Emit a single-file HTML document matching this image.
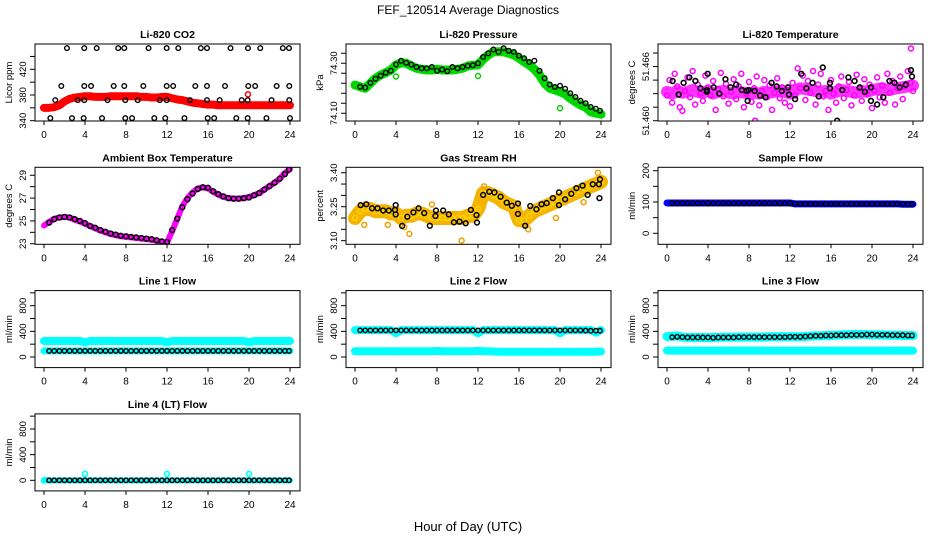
<!DOCTYPE html>
<html><head><meta charset="utf-8"><style>
body{margin:0;background:#fff;}
svg{display:block;font-family:"Liberation Sans",sans-serif;}
</style></head><body>
<svg id="chart" width="936" height="540" viewBox="0 0 936 540" xmlns="http://www.w3.org/2000/svg">
<text x="468" y="14" text-anchor="middle" font-size="12">FEF_120514  Average Diagnostics</text>
<text x="468" y="531" text-anchor="middle" font-size="13">Hour of Day (UTC)</text>
</svg>
<script>
const H49=[0,0.5,1,1.5,2,2.5,3,3.5,4,4.5,5,5.5,6,6.5,7,7.5,8,8.5,9,9.5,10,10.5,11,11.5,12,12.5,13,13.5,14,14.5,15,15.5,16,16.5,17,17.5,18,18.5,19,19.5,20,20.5,21,21.5,22,22.5,23,23.5,24];
const BH=[0.5,1,1.5,2,2.5,3,3.5,4,4.5,5,5.5,6,6.5,7,7.5,8,8.5,9,9.5,10,10.5,11,11.5,12,12.5,13,13.5,14,14.5,15,15.5,16,16.5,17,17.5,18,18.5,19,19.5,20,20.5,21,21.5,22,22.5,23,23.5,23.9];
const xTicks=[0,4,8,12,16,20,24];

// CO2
const co2Band=[360,360,361,364,370,374,376,377,378,378,377,377,377,378,378,378,378,378,378,377,377,376,376,377,377,375,373,372,370,368,367,366,365,365,364,364,364,364,364,364,364,364,364,364,364,364,364,364,364];
const co2BlackX=[2.24,3.93,5.14,7.24,7.83,10.2,11.97,13.1,15.3,15.9,18.2,19.9,21.1,23.3,23.9,1.69,3.93,4.59,6.8,7.83,9.69,11.97,12.6,14.76,15.9,17.66,19.93,20.6,22.7,23.93,1.1,3.29,3.93,6.2,7.93,9.14,11.3,11.97,14.24,15.9,17.14,19.29,19.87,22.2,23.93,0.62,2.73,3.87,5.66,7.93,8.59,10.76,11.83,13.7,15.97,16.6,18.76,19.87,21.7,24];
const co2BlackY=[453,453,453,453,453,453,453,453,453,453,453,453,453,453,453,394,394,394,394,394,394,394,394,394,394,394,394,394,394,394,372,372,372,372,372,372,372,372,372,372,372,372,372,372,372,344,344,344,344,344,344,344,344,344,344,344,344,344,344,344];
// Pressure
const presBand=[74.213,74.206,74.200,74.220,74.240,74.253,74.262,74.273,74.293,74.302,74.300,74.289,74.280,74.276,74.273,74.273,74.276,74.273,74.273,74.273,74.276,74.280,74.289,74.292,74.293,74.316,74.333,74.346,74.346,74.346,74.340,74.333,74.320,74.306,74.293,74.276,74.253,74.220,74.200,74.193,74.186,74.177,74.160,74.146,74.133,74.124,74.106,74.100,74.096];
const presBlack=[74.206,74.203,74.222,74.238,74.25,74.262,74.27,74.295,74.31,74.302,74.295,74.285,74.28,74.28,74.285,74.27,74.275,74.268,74.285,74.28,74.285,74.29,74.292,74.30,74.325,74.34,74.355,74.345,74.36,74.35,74.345,74.33,74.32,74.305,74.31,74.27,74.24,74.215,74.205,74.21,74.198,74.18,74.165,74.15,74.14,74.125,74.118,74.11];
const presOutX=[4,12,20];
const presOutY=[74.247,74.249,74.12];
// Li-820 temperature
const tempBand=[51.4632,51.4630,51.4633,51.4631,51.4632,51.4634,51.4632,51.4631,51.4633,51.4630,51.4632,51.4633,51.4631,51.4630,51.4632,51.4631,51.4630,51.4631,51.4630,51.4632,51.4631,51.4632,51.4633,51.4632,51.4630,51.4634,51.4636,51.4635,51.4634,51.4633,51.4632,51.4633,51.4630,51.4632,51.4634,51.4633,51.4632,51.4631,51.4633,51.4632,51.4634,51.4635,51.4636,51.4634,51.4635,51.4636,51.4637,51.4638,51.4639];
const tempMag=[51.4628,51.4645,51.4620,51.4652,51.4638,51.4615,51.4611,51.4633,51.4648,51.4626,51.4655,51.4618,51.4640,51.4630,51.4622,51.4650,51.4637,51.4628,51.4644,51.4612,51.4635,51.4653,51.4627,51.4641,51.4619,51.4632,51.4646,51.4624,51.4638,51.4652,51.4615,51.4630,51.4643,51.4621,51.4636,51.4649,51.4617,51.4633,51.4645,51.4626,51.4639,51.4612,51.4631,51.4647,51.4625,51.4637,51.4620,51.4634,51.4616,51.4642,51.4628,51.4658,51.4636,51.4650,51.4623,51.4644,51.4631,51.4655,51.4618,51.4640,51.4652,51.4627,51.4633,51.4612,51.4645,51.4630,51.4620,51.4638,51.4649,51.4625,51.4634,51.4643,51.4617,51.4628,51.4651,51.4636,51.4622,51.4646,51.4630,51.4640,51.4614,51.4633,51.4648,51.4626,51.4639,51.4620,51.4652,51.4631,51.4644,51.4618,51.4636,51.4649,51.4624,51.4638,51.4655,51.4642,51.4633];
const tempOutX=[23.8,8.6];
const tempOutY=[51.4680,51.4600];
const tempBlackX=[0.55,1.14,1.62,2.18,2.77,3.26,3.88,3.97,3.88,4.56,5.1,5.7,6.2,6.75,7.3,7.78,7.87,7.97,8.55,9.08,9.6,10.2,10.7,11.2,11.8,11.9,12.5,13.1,13.6,14.2,14.8,15.2,15.9,15.9,16.6,17.1,17.7,18.3,18.8,19.3,19.9,19.9,20.5,21.1,21.7,22.2,22.7,23.3,23.8,23.9];
const tempBlackY=[51.4644,51.4629,51.4642,51.4648,51.4644,51.4636,51.4634,51.4652,51.4632,51.4637,51.4630,51.4646,51.4637,51.4640,51.4634,51.4633,51.4622,51.4634,51.4633,51.4628,51.4626,51.4642,51.4638,51.4633,51.4637,51.4629,51.4624,51.4652,51.4636,51.4642,51.4627,51.4659,51.4642,51.4636,51.4600,51.4634,51.4648,51.4644,51.4637,51.4632,51.4622,51.4637,51.4618,51.4626,51.4644,51.4642,51.4637,51.4640,51.4656,51.4649];
// Ambient
const ambBand=[24.6,24.9,25.2,25.3,25.35,25.3,25.1,24.95,24.75,24.55,24.35,24.15,24.0,23.85,23.75,23.65,23.6,23.55,23.5,23.45,23.4,23.35,23.25,23.15,23.1,24.1,25.2,26.3,27.0,27.5,27.85,27.95,27.85,27.55,27.3,27.1,27.0,26.95,26.95,27.0,27.1,27.25,27.45,27.75,28.05,28.35,28.7,29.2,29.55];
const ambBlack=[24.85,25.15,25.3,25.35,25.3,25.15,25.0,24.8,24.55,24.4,24.2,24.05,23.9,23.8,23.7,23.65,23.6,23.55,23.5,23.45,23.4,23.3,23.2,23.15,24.2,25.2,26.2,26.9,27.4,27.8,27.95,27.9,27.6,27.35,27.15,27.0,26.95,26.95,27.0,27.05,27.25,27.45,27.75,28.05,28.35,28.7,29.1,29.5];
// Gas RH
const rhBand=[3.20,3.23,3.24,3.24,3.23,3.23,3.23,3.22,3.22,3.20,3.21,3.21,3.22,3.22,3.21,3.20,3.20,3.20,3.20,3.20,3.20,3.20,3.21,3.21,3.24,3.31,3.31,3.30,3.29,3.27,3.26,3.25,3.19,3.19,3.21,3.23,3.24,3.25,3.26,3.27,3.28,3.29,3.30,3.31,3.32,3.33,3.34,3.35,3.36];
const rhOutX=[0.9,4.8,5.3,10.4,16.9,12.6,22.3,23.7,3.2,7.5,19.6];
const rhOutY=[3.17,3.16,3.13,3.10,3.15,3.34,3.27,3.40,3.17,3.26,3.20];
const rhBlackX=[0.55,1.1,1.66,2.2,2.75,3.3,3.9,3.97,3.97,4.6,5.1,5.7,6.2,6.75,7.3,7.85,7.9,8.6,9.15,9.65,10.2,10.8,11.3,11.85,11.9,12.5,13.1,13.6,14.2,14.8,15.3,15.9,15.9,16.6,17.1,17.7,18.2,18.7,19.3,19.9,19.9,20.5,21.1,21.6,22.2,22.7,23.2,23.8,23.9,23.85];
const rhBlackY=[3.257,3.261,3.243,3.243,3.233,3.233,3.236,3.257,3.216,3.165,3.206,3.225,3.243,3.222,3.166,3.209,3.233,3.233,3.216,3.181,3.184,3.177,3.236,3.213,3.180,3.302,3.316,3.313,3.294,3.268,3.254,3.264,3.218,3.166,3.253,3.239,3.261,3.266,3.288,3.313,3.257,3.283,3.307,3.332,3.343,3.302,3.349,3.349,3.371,3.288];
// Sample flow
const sampBand=[97,97,97,97,97,97,97,97,97,97,97,97,97,97,97,97,97,97,97,97,97,97,97,97,97,94,94,94,94,94,94,94,94,94,94,94,94,94,94,94,94,94,94,94,94,94,93,93,93];
const sampBlack=[96,96,96,96,96,96,96,96,96,96,96,96,96,96,96,96,96,96,96,96,96,96,96,96,94,94,94,94,94,94,94,94,94,94,94,94,94,94,94,94,94,94,94,94,94,94,93,93];
// Line 1
const l1CyanHi=[250,250,250,250,250,250,250,250,230,250,250,250,250,250,250,250,250,250,250,250,250,250,250,250,230,250,250,250,250,250,250,250,250,250,250,250,250,250,250,250,230,250,250,250,250,250,250,250,250];
const l1CyanLo=[95,95,95,95,95,95,95,95,95,95,95,95,95,95,95,95,95,95,95,95,95,95,95,95,95,95,95,95,95,95,95,95,95,95,95,95,95,95,95,95,95,95,95,95,95,95,95,95,95];
const l1Black=[95,95,95,95,95,95,95,95,95,95,95,95,95,95,95,95,95,95,95,95,95,95,95,95,95,95,95,95,95,95,95,95,95,95,95,95,95,95,95,95,95,95,95,95,95,95,95,95];
// Line 2
const l2CyanHi=[420,420,420,420,420,420,420,420,370,420,420,420,420,420,420,420,420,420,420,420,420,420,420,420,370,420,420,420,420,420,420,420,420,420,420,420,420,420,420,420,370,420,420,420,420,420,420,380,420];
const l2CyanLo=[90,90,90,90,90,90,90,90,90,90,90,90,90,90,90,90,95,90,90,90,90,90,90,90,95,90,90,85,82,82,82,82,82,82,82,82,82,82,82,82,82,82,82,82,82,82,82,82,85];
const l2Black=[415,415,415,415,415,415,415,415,415,415,415,415,415,415,415,415,415,415,415,415,415,415,415,415,415,415,415,415,415,415,415,415,415,415,415,415,415,415,415,415,415,415,415,415,412,410,410,410];
// Line 3
const l3CyanHi=[320,320,330,310,305,305,305,305,300,305,305,310,310,310,310,310,310,310,310,310,315,315,315,315,315,315,315,320,325,330,330,335,335,340,345,345,350,350,350,350,345,345,345,340,340,340,335,335,335];
const l3CyanLo=[100,100,100,100,100,100,100,100,100,100,100,100,100,100,100,100,100,100,100,100,100,100,100,100,100,100,100,100,100,100,100,100,100,100,100,100,100,100,100,100,100,100,100,100,100,100,100,100,100];
const l3Black=[310,315,310,305,305,305,305,305,300,305,305,305,305,310,310,310,310,310,310,310,310,310,310,315,315,315,320,325,330,330,335,335,340,340,340,345,345,345,350,350,345,345,345,340,340,340,335,335];
// Line 4
const l4Cyan=[0,0,0,0,0,0,0,0,100,0,0,0,0,0,0,0,0,0,0,0,0,0,0,0,100,0,0,0,0,0,0,0,0,0,0,0,0,0,0,0,100,0,0,0,0,0,0,0,0];
const l4Black=[0,0,0,0,0,0,0,0,0,0,0,0,0,0,0,0,0,0,0,0,0,0,0,0,0,0,0,0,0,0,0,0,0,0,0,0,0,0,0,0,0,0,0,0,0,0,0,0];

const NS='http://www.w3.org/2000/svg';
const svg=document.getElementById('chart');
const colLeft=[35,346,658], rowTop=[44,167.3,290.6,413.9], PW=265, PH=77;
function mk(tag,parent){const e=document.createElementNS(NS,tag);parent.appendChild(e);return e;}

function panel(col,row,ymin,ymax,yt,yl,title,ylab,pname){
  const g=mk('g',svg);
  
  
  const L=colLeft[col],T=rowTop[row],B=T+PH;
  const sx=h=>L+9+h*10.25, sy=v=>B-(v-ymin)/(ymax-ymin)*PH;
  const clip=mk('clipPath',g);clip.setAttribute('id','c'+pname);
  const cr=mk('rect',clip);cr.setAttribute('x',L);cr.setAttribute('y',T);cr.setAttribute('width',PW);cr.setAttribute('height',PH);
  const data=mk('g',g);data.setAttribute('clip-path','url(#c'+pname+')');
  
  
  const box=mk('rect',g);
  
  
  box.setAttribute('x',L);box.setAttribute('y',T);box.setAttribute('width',PW);box.setAttribute('height',PH);
  box.setAttribute('fill','none');box.setAttribute('stroke','#000');box.setAttribute('stroke-width','1');
  const t=mk('text',g);
  
  
  t.setAttribute('x',L+PW/2);t.setAttribute('y',T-6);t.setAttribute('text-anchor','middle');t.setAttribute('font-size','10.5');t.setAttribute('font-weight','bold');t.textContent=title;
  const yt2=mk('text',g);
  
  
  yt2.setAttribute('transform','translate('+(L-23)+','+(T+PH/2)+') rotate(-90)');yt2.setAttribute('text-anchor','middle');yt2.setAttribute('font-size','9.5');yt2.textContent=ylab;
  yt.forEach(v=>{const l=mk('line',g);
    
    
    l.setAttribute('x1',L-5);l.setAttribute('x2',L);l.setAttribute('y1',sy(v));l.setAttribute('y2',sy(v));l.setAttribute('stroke','#000');});
  yl.forEach(a=>{const s=mk('text',g);
    
    
    s.setAttribute('transform','translate('+(L-9)+','+sy(a[1])+') rotate(-90)');s.setAttribute('text-anchor','middle');s.setAttribute('font-size','9.5');s.textContent=a[0];});
  xTicks.forEach(v=>{const l=mk('line',g);
    
    
    l.setAttribute('x1',sx(v));l.setAttribute('x2',sx(v));l.setAttribute('y1',B);l.setAttribute('y2',B+4);l.setAttribute('stroke','#000');
    const s=mk('text',g);
    
    
    s.setAttribute('x',sx(v));s.setAttribute('y',B+17);s.setAttribute('text-anchor','middle');s.setAttribute('font-size','10');s.textContent=v;});
  return {sx,sy,data};
}
function band(p,xs,ys,color,w,op){
  const pl=mk('polyline',p.data);
  
  
  pl.setAttribute('points',xs.map((x,i)=>p.sx(x)+','+p.sy(ys[i])).join(' '));
  pl.setAttribute('fill','none');pl.setAttribute('stroke',color);pl.setAttribute('stroke-width',w);pl.setAttribute('stroke-linejoin','round');pl.setAttribute('stroke-linecap','round');
  if(op)pl.setAttribute('stroke-opacity',op);
}
function pts(p,xs,ys,color,r,sw){
  xs.forEach((x,i)=>{const c=mk('circle',p.data);
    
    
    c.setAttribute('cx',p.sx(x));c.setAttribute('cy',p.sy(ys[i]));c.setAttribute('r',r);c.setAttribute('fill','none');c.setAttribute('stroke',color);c.setAttribute('stroke-width',sw);});
}
const flowT=[0,200,400,600,800,1000], flowL=[['0',0],['400',400],['800',800]];
let p;
p=panel(0,0,339.5,459.4,[340,360,380,400,420,440],[['340',340],['380',380],['420',420]],'Li-820 CO2','Licor ppm','panel-co2');
band(p,H49,co2Band,'#f00',8);pts(p,H49,co2Band,'#f00',2.5,1.5);pts(p,[19.9],[381],'#f00',2.5,1.5);
pts(p,co2BlackX,co2BlackY,'#000',2.3,1.4);

p=panel(1,0,74.069,74.377,[74.10,74.14,74.18,74.22,74.26,74.30,74.34],[['74.10',74.10],['74.30',74.30]],'Li-820 Pressure','kPa','panel-pressure');
band(p,H49,presBand,'#00dd00',9);pts(p,H49,presBand,'#00cc00',2.5,1.4);pts(p,presOutX,presOutY,'#00cc00',2.5,1.4);
pts(p,BH,presBlack,'#000',2.3,1.4);

p=panel(2,0,51.45997,51.4685,[51.4600,51.4615,51.4630,51.4645,51.4660,51.4675],[['51.460',51.460],['51.466',51.466]],'Li-820 Temperature','degrees C','panel-li-temp');
band(p,H49,tempBand,'#ff00ff',12,0.8);
pts(p,tempMag.map((v,i)=>i*24/(tempMag.length-1)),tempMag,'#ff00ff',2.5,1.5);
pts(p,tempOutX,tempOutY,'#ff00ff',2.5,1.5);
pts(p,tempBlackX,tempBlackY,'#000',2.4,1.6);

p=panel(0,1,22.95,29.70,[23,24,25,26,27,28,29],[['23',23],['25',25],['27',27],['29',29]],'Ambient Box Temperature','degrees C','panel-ambient');
band(p,H49,ambBand,'#ff00ff',6);pts(p,BH,ambBlack,'#000',2.4,1.5);

p=panel(1,1,3.084,3.424,[3.10,3.15,3.20,3.25,3.30,3.35,3.40],[['3.10',3.10],['3.25',3.25],['3.40',3.40]],'Gas Stream RH','percent','panel-rh');
band(p,H49,rhBand,'#f5b400',14);pts(p,H49,rhBand,'#ffd800',2.5,1.2);pts(p,rhOutX,rhOutY,'#f0a000',2.5,1.5);
pts(p,rhBlackX,rhBlackY,'#000',2.4,1.5);

p=panel(2,1,-35.1,210.9,[0,50,100,150,200],[['0',0],['100',100],['200',200]],'Sample Flow','ml/min','panel-sample-flow');
band(p,H49,sampBand,'#0000ff',7);pts(p,BH,sampBlack,'#000',2.2,1.4);

p=panel(0,2,-165,1035,flowT,flowL,'Line 1 Flow','ml/min','panel-line1');
band(p,H49,l1CyanHi,'#00ffff',8);band(p,H49,l1CyanLo,'#00ffff',7);pts(p,BH,l1Black,'#000',2.2,1.4);

p=panel(1,2,-165,1035,flowT,flowL,'Line 2 Flow','ml/min','panel-line2');
band(p,H49,l2CyanHi,'#00ffff',8);band(p,H49,l2CyanLo,'#00ffff',8);pts(p,BH,l2Black,'#000',2.2,1.4);

p=panel(2,2,-165,1035,flowT,flowL,'Line 3 Flow','ml/min','panel-line3');
band(p,H49,l3CyanHi,'#00ffff',9);band(p,H49,l3CyanLo,'#00ffff',8);pts(p,BH,l3Black,'#000',2.2,1.4);

p=panel(0,3,-165,1035,flowT,flowL,'Line 4 (LT) Flow','ml/min','panel-line4');
band(p,H49,l4Cyan.map(()=>0),'#00ffff',6);
pts(p,H49.filter((h,i)=>l4Cyan[i]>0),l4Cyan.filter(v=>v>0),'#00ffff',2.5,1.6);
pts(p,[0,0.2],[0,0],'#00ffff',2.5,1.6);
pts(p,BH,l4Black,'#000',2.2,1.5);
</script>
</body></html>
